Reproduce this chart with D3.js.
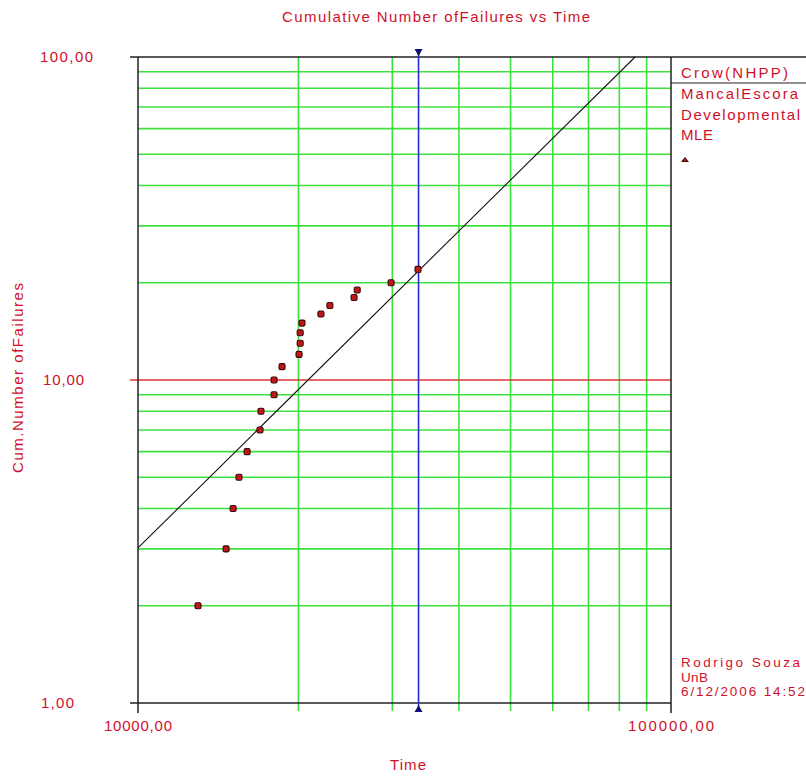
<!DOCTYPE html>
<html>
<head>
<meta charset="utf-8">
<script src="https://d3js.org/d3.v7.min.js"></script>
<style>
  body { margin: 0; background: #fff; }
  text { font-family: "Liberation Sans", Arial, sans-serif; fill: #d0102a; }
</style>
</head>
<body>
<script>
// chart data
var failureTimes = [12960, 14630, 15080, 15470, 16020, 16940, 17010, 18000, 18000, 18630,
                    20050, 20150, 20150, 20310, 22040, 22910, 25430, 25780, 29840, 33520];
var cumFailures  = [2, 3, 4, 5, 6, 7, 8, 9, 10, 11,
                    12, 13, 14, 15, 16, 17, 18, 19, 20, 22];

// Crow (NHPP) fitted line, two end points
var fitTimes  = [10000, 85630];
var fitValues = [3.02, 100];

// end of test time (blue marker)
var endTime = 33600;

var yTicks = [1, 10, 100];
var yTickLabels = ["1,00", "10,00", "100,00"];
var xTicks = [10000, 100000];
var xTickLabels = ["10000,00", "100000,00"];
var yMinor = [2, 3, 4, 5, 6, 7, 8, 9, 20, 30, 40, 50, 60, 70, 80, 90];
var xMinor = [20000, 30000, 40000, 50000, 60000, 70000, 80000, 90000];

var legendLines = ["MancalEscora", "Developmental", "MLE"];
var footerLines = ["Rodrigo Souza", "UnB", "6/12/2006 14:52"];

// SETUP
var w = 806;
var h = 776;
var pLeft = 138, pRight = 671, pTop = 57, pBottom = 703;

var svg = d3.select("body")
  .append("svg")
  .attr("width", w)
  .attr("height", h);

var x = d3.scaleLog().domain([10000, 100000]).range([pLeft, pRight]);
var y = d3.scaleLog().domain([1, 100]).range([pBottom, pTop]);

// GRID
svg.selectAll("line.hgrid")
  .data(yMinor)
  .enter()
  .append("line")
  .attr("class", "hgrid")
  .attr("x1", pLeft).attr("x2", pRight)
  .attr("y1", function(d){ return y(d); })
  .attr("y2", function(d){ return y(d); })
  .attr("stroke", "#3ee03e")
  .attr("stroke-width", 1.6);

svg.selectAll("line.vgrid")
  .data(xMinor)
  .enter()
  .append("line")
  .attr("class", "vgrid")
  .attr("x1", function(d){ return x(d); })
  .attr("x2", function(d){ return x(d); })
  .attr("y1", pTop).attr("y2", pBottom + 8)
  .attr("stroke", "#3ee03e")
  .attr("stroke-width", 1.6);

// red line at 10
svg.append("line")
  .attr("x1", pLeft - 8).attr("x2", pRight)
  .attr("y1", y(10)).attr("y2", y(10))
  .attr("stroke", "#e0303a")
  .attr("stroke-width", 1.6);

// FRAME
var black = "#222";
svg.append("line") // top border, runs into legend box
  .attr("x1", pLeft - 8).attr("x2", w)
  .attr("y1", pTop).attr("y2", pTop)
  .attr("stroke", black).attr("stroke-width", 1.5);
svg.append("line") // x axis
  .attr("x1", pLeft - 8).attr("x2", pRight)
  .attr("y1", pBottom).attr("y2", pBottom)
  .attr("stroke", black).attr("stroke-width", 1.5);
svg.append("line") // y axis
  .attr("x1", pLeft).attr("x2", pLeft)
  .attr("y1", pTop).attr("y2", pBottom + 10)
  .attr("stroke", black).attr("stroke-width", 1.5);
svg.append("line") // right border
  .attr("x1", pRight).attr("x2", pRight)
  .attr("y1", pTop).attr("y2", pBottom + 10)
  .attr("stroke", black).attr("stroke-width", 1.5);
svg.append("line") // legend separator
  .attr("x1", pRight).attr("x2", w)
  .attr("y1", 83).attr("y2", 83)
  .attr("stroke", black).attr("stroke-width", 1.2);

// FIT LINE
svg.append("line")
  .attr("x1", x(fitTimes[0])).attr("y1", y(fitValues[0]))
  .attr("x2", x(fitTimes[1])).attr("y2", y(fitValues[1]))
  .attr("stroke", "#111")
  .attr("stroke-width", 1.1);

// END TIME LINE
svg.append("line")
  .attr("x1", x(endTime)).attr("x2", x(endTime))
  .attr("y1", pTop - 4).attr("y2", pBottom + 4)
  .attr("stroke", "#2a2ad0")
  .attr("stroke-width", 1.6);
svg.append("path")
  .attr("d", "M" + (x(endTime) - 4) + "," + (pTop - 8) + "h8l-4,7z")
  .attr("fill", "#101070");
svg.append("path")
  .attr("d", "M" + (x(endTime) - 4) + "," + (pBottom + 9) + "h8l-4,-7z")
  .attr("fill", "#101070");

// POINTS
var points = failureTimes.map(function(t, i){ return { t: t, n: cumFailures[i] }; });
svg.selectAll("rect.pt")
  .data(points)
  .enter()
  .append("rect")
  .attr("class", "pt")
  .attr("x", function(d){ return x(d.t) - 3; })
  .attr("y", function(d){ return y(d.n) - 3; })
  .attr("width", 6)
  .attr("height", 6)
  .attr("rx", 1.5)
  .attr("fill", "#c01818")
  .attr("stroke", "#3a0808")
  .attr("stroke-width", 1.1);

// TEXT
var addText = function(str, tx, ty, len, anchor, size) {
  return svg.append("text")
    .attr("x", tx)
    .attr("y", ty)
    .attr("text-anchor", anchor || "start")
    .attr("textLength", len)
    .attr("lengthAdjust", "spacing")
    .style("font-size", (size || 15) + "px")
    .text(str);
};

addText("Cumulative Number ofFailures vs Time", 282, 22, 308);

var yTickX = [41, 43, 40];
var yTickW = [33, 41, 53];
yTicks.forEach(function(d, i){
  addText(yTickLabels[i], yTickX[i], y(d) + 5, yTickW[i]);
});
xTicks.forEach(function(d, i){
  var widths = [68, 86];
  addText(xTickLabels[i], x(d), pBottom + 28, widths[i], "middle");
});

addText("Time", 408, 770, 36, "middle");

svg.append("text")
  .attr("transform", "translate(23,378) rotate(-90)")
  .attr("text-anchor", "middle")
  .attr("textLength", 190)
  .attr("lengthAdjust", "spacing")
  .style("font-size", "15px")
  .text("Cum.Number ofFailures");

// legend
addText("Crow(NHPP)", 681, 78, 107);
var legendWidths = [117, 119, 32];
legendLines.forEach(function(s, i){
  addText(s, 681, 99 + i * 20.5, legendWidths[i]);
});
svg.append("path")
  .attr("d", "M681,162 L685,157 L689,162 Z")
  .attr("fill", "#3a0808");
svg.append("circle")
  .attr("cx", 685).attr("cy", 160).attr("r", 1.3)
  .attr("fill", "#c01818");

// footer
var footerWidths = [119, 27, 124];
footerLines.forEach(function(s, i){
  addText(s, 681, 667 + i * 14.5, footerWidths[i], "start", 13.5);
});
</script>
</body>
</html>
